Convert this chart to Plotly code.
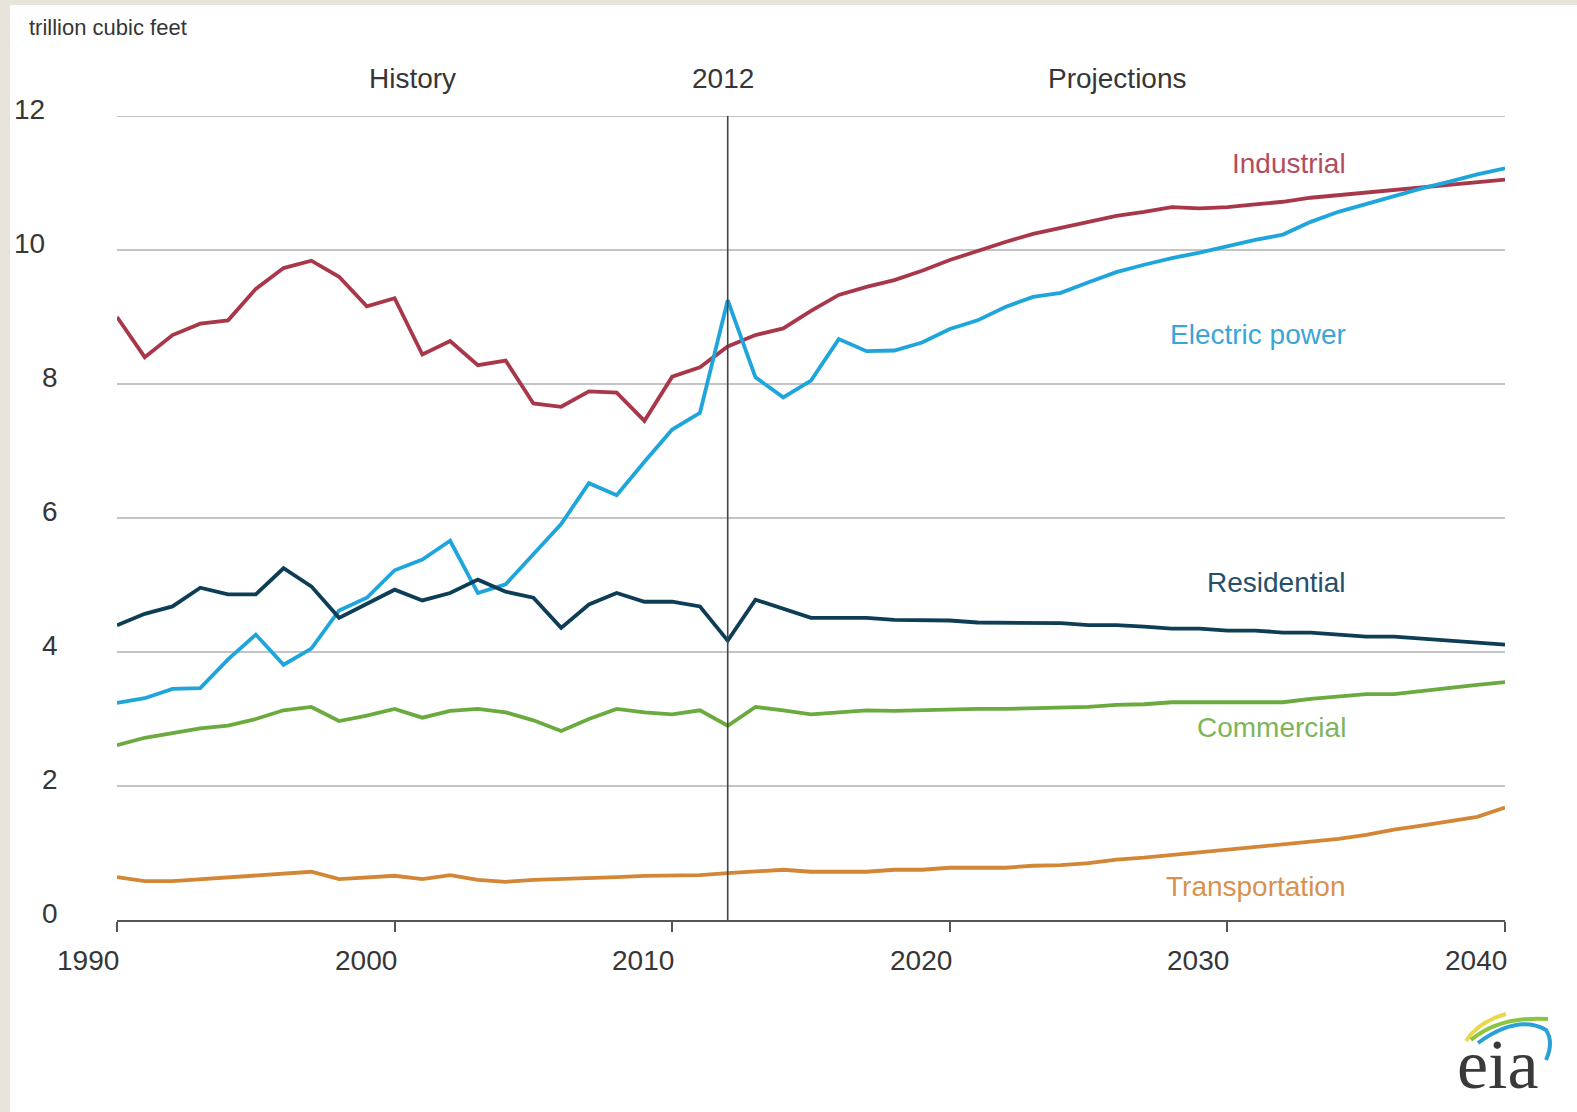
import plotly.graph_objects as go

# Natural gas consumption by sector, trillion cubic feet
years = list(range(1990, 2041))

industrial = [9.00, 8.40, 8.73, 8.90, 8.95, 9.42, 9.73, 9.84, 9.60, 9.16,
              9.28, 8.44, 8.64, 8.28, 8.35, 7.71, 7.66, 7.89, 7.87, 7.45,
              8.11, 8.25, 8.56, 8.73, 8.83, 9.09, 9.33, 9.45, 9.55, 9.69,
              9.85, 9.99, 10.12, 10.24, 10.33, 10.42, 10.51, 10.57, 10.64, 10.62,
              10.64, 10.68, 10.72, 10.78, 10.82, 10.86, 10.89, 10.93, 10.97, 11.01,
              11.05]

electric_power = [3.24, 3.31, 3.45, 3.46, 3.89, 4.26, 3.81, 4.05, 4.62, 4.81,
                  5.22, 5.38, 5.66, 4.88, 5.01, 5.46, 5.91, 6.52, 6.34, 6.84,
                  7.32, 7.57, 9.25, 8.10, 7.80, 8.05, 8.67, 8.49, 8.50, 8.62,
                  8.82, 8.95, 9.15, 9.30, 9.36, 9.52, 9.67, 9.78, 9.88, 9.96,
                  10.06, 10.15, 10.23, 10.42, 10.57, 10.69, 10.81, 10.92, 11.02, 11.13,
                  11.22]

residential = [4.40, 4.57, 4.68, 4.96, 4.86, 4.86, 5.25, 4.98, 4.51, 4.72,
               4.93, 4.77, 4.88, 5.08, 4.90, 4.81, 4.36, 4.71, 4.88, 4.75,
               4.75, 4.68, 4.17, 4.78, 4.65, 4.51, 4.51, 4.51, 4.48, 4.47,
               4.47, 4.44, 4.44, 4.44, 4.43, 4.40, 4.40, 4.38, 4.35, 4.35,
               4.32, 4.32, 4.29, 4.29, 4.26, 4.23, 4.23, 4.20, 4.18, 4.15,
               4.11]

commercial = [2.61, 2.72, 2.79, 2.86, 2.90, 3.00, 3.13, 3.18, 2.97, 3.05,
              3.15, 3.02, 3.12, 3.15, 3.10, 2.98, 2.82, 3.00, 3.15, 3.10,
              3.07, 3.13, 2.90, 3.18, 3.13, 3.07, 3.10, 3.13, 3.12, 3.13,
              3.15, 3.15, 3.15, 3.16, 3.18, 3.18, 3.21, 3.22, 3.25, 3.25,
              3.25, 3.25, 3.25, 3.30, 3.34, 3.37, 3.37, 3.42, 3.46, 3.51,
              3.55]

transportation = [0.64, 0.58, 0.58, 0.61, 0.64, 0.67, 0.69, 0.72, 0.61, 0.64,
                  0.66, 0.61, 0.67, 0.60, 0.57, 0.60, 0.61, 0.63, 0.64, 0.66,
                  0.67, 0.67, 0.70, 0.72, 0.75, 0.72, 0.72, 0.72, 0.75, 0.75,
                  0.78, 0.78, 0.78, 0.81, 0.82, 0.85, 0.90, 0.93, 0.97, 1.00,
                  1.05, 1.09, 1.12, 1.17, 1.21, 1.27, 1.35, 1.41, 1.48, 1.54,
                  1.68]

sector_names = ["Industrial", "Electric power", "Residential", "Commercial", "Transportation"]
sector_values = [industrial, electric_power, residential, commercial, transportation]
line_colors = ["#a8374a", "#1ea5db", "#0e3d56", "#6aaa3f", "#d38636"]
label_colors = ["#b34d5e", "#38a6d6", "#24506b", "#7db55a", "#d9914f"]
label_y = [11.29, 8.74, 5.03, 2.87, 0.50]
label_x = 2034.35

y_ticks = [0, 2, 4, 6, 8, 10, 12]
x_ticks = [1990, 2000, 2010, 2020, 2030, 2040]
split_year = 2012
X_MIN, X_MAX = 1990, 2040
Y_MIN, Y_MAX = 0, 12

W, H = 1577, 1112
ML, MR, MT, MB = 117, 72, 116, 192
PW = W - ML - MR
PH = H - MT - MB

FONT = "Liberation Sans, Arial, sans-serif"
TXT = "#363636"
GRID = "#c4c4c4"


def px_x(p):
    return (p - ML) / PW


def px_y(p):
    return (H - MB - p) / PH


def fx(v):
    # data x -> paper x
    return (v - X_MIN) / (X_MAX - X_MIN)


def fy(v):
    # data y -> paper y
    return (v - Y_MIN) / (Y_MAX - Y_MIN)


fig = go.Figure()

for name, vals, col in zip(sector_names, sector_values, line_colors):
    fig.add_trace(go.Scatter(x=years, y=vals, mode="lines", name=name,
                             line=dict(color=col, width=3.8),
                             showlegend=False, hoverinfo="x+y+name"))

annotations = []

# series labels
for name, col, ly in zip(sector_names, label_colors, label_y):
    annotations.append(dict(x=label_x, y=ly, xref="x", yref="y", text=name,
                            showarrow=False, xanchor="right", yanchor="middle",
                            font=dict(family=FONT, size=28, color=col)))

# y tick labels
for v in y_ticks:
    lx = 12 if v >= 10 else 40
    annotations.append(dict(x=px_x(lx), y=fy(v + 0.1), xref="paper", yref="paper",
                            text=str(v), showarrow=False, xanchor="left",
                            yanchor="middle",
                            font=dict(family=FONT, size=28, color=TXT)))

# x tick labels, right-aligned at each tick
for yr in x_ticks:
    annotations.append(dict(x=fx(yr), y=fy(-0.6), xref="paper", yref="paper",
                            text=str(yr), showarrow=False, xanchor="right",
                            yanchor="middle", xshift=4,
                            font=dict(family=FONT, size=28, color=TXT)))

# period headers
for txt, xv, sh in [("History", 2000.64, 0), (str(split_year), split_year, -5),
                    ("Projections", 2026.05, 0)]:
    annotations.append(dict(x=fx(xv), y=fy(12.56), xref="paper", yref="paper",
                            text=txt, showarrow=False, xanchor="center",
                            yanchor="middle", xshift=sh,
                            font=dict(family=FONT, size=28, color=TXT)))

# unit label
annotations.append(dict(x=px_x(27), y=px_y(27), xref="paper", yref="paper",
                        text="trillion cubic feet", showarrow=False,
                        xanchor="left", yanchor="middle",
                        font=dict(family=FONT, size=22, color=TXT)))

# eia wordmark
annotations.append(dict(x=px_x(1498), y=px_y(1064), xref="paper", yref="paper",
                        text="eia", showarrow=False, xanchor="center",
                        yanchor="middle",
                        font=dict(family="Liberation Serif, Times New Roman, serif",
                                  size=70, color="#3a3a3a")))

shapes = [
    # top gridline at the upper end of the range
    dict(type="line", xref="paper", yref="y", x0=0, x1=1, y0=Y_MAX, y1=Y_MAX,
         line=dict(color=GRID, width=2), layer="below"),
    # vertical divider at the last historical year
    dict(type="line", xref="x", yref="y", x0=split_year, x1=split_year,
         y0=Y_MIN, y1=Y_MAX, line=dict(color="#444444", width=1.6)),
    # beige frame strips
    dict(type="rect", xref="paper", yref="paper", x0=px_x(0), x1=px_x(10),
         y0=px_y(H), y1=px_y(0), line=dict(width=0), fillcolor="#e8e4dc",
         layer="below"),
    dict(type="rect", xref="paper", yref="paper", x0=px_x(0), x1=px_x(W),
         y0=px_y(5), y1=px_y(0), line=dict(width=0), fillcolor="#e8e4dc",
         layer="below"),
]

# swoosh strokes above the wordmark, given in pixel space
swooshes = [
    ("#e8d84a", 4, "M 1466 1041 Q 1478 1022 1506 1014"),
    ("#8cc540", 4, "M 1471 1040 Q 1500 1016 1548 1019"),
    ("#2aa0d8", 4, "M 1478 1043 Q 1518 1014 1546 1030 Q 1554 1042 1546 1060"),
]
for col, wd, d in swooshes:
    toks = d.split()
    out = []
    i = 0
    while i < len(toks):
        t = toks[i]
        if t in ("M", "Q", "L"):
            out.append(t)
            i += 1
        else:
            px, py = float(toks[i]), float(toks[i + 1])
            out.append(f"{px_x(px):.5f},{px_y(py):.5f}")
            i += 2
    shapes.append(dict(type="path", xref="paper", yref="paper",
                       path=" ".join(out), line=dict(color=col, width=wd)))

fig.update_layout(
    width=W, height=H,
    margin=dict(l=ML, r=MR, t=MT, b=MB, pad=0),
    paper_bgcolor="white", plot_bgcolor="white",
    font=dict(family=FONT, color=TXT),
    showlegend=False,
    annotations=annotations,
    shapes=shapes,
    xaxis=dict(range=[X_MIN, X_MAX], tickvals=x_ticks, showticklabels=False,
               ticks="outside", ticklen=10, tickwidth=2, tickcolor="#555555",
               showline=True, linecolor="#555555", linewidth=2,
               showgrid=False, zeroline=False, fixedrange=True),
    yaxis=dict(range=[Y_MIN, Y_MAX], tickvals=y_ticks, showticklabels=False,
               ticks="", showgrid=True, gridcolor=GRID, gridwidth=2,
               zeroline=False, showline=False, fixedrange=True),
)

fig.write_html("out.html", config={"displayModeBar": False})
